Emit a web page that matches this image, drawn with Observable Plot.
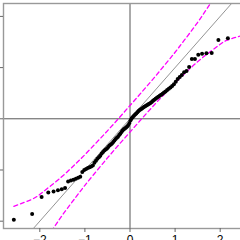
<!DOCTYPE html>
<html>
<head>
<meta charset="utf-8">
<script src="https://cdn.jsdelivr.net/npm/d3@7"></script>
<script src="https://cdn.jsdelivr.net/npm/@observablehq/plot@0.6"></script>
<style>
  html, body { margin: 0; padding: 0; background: white; }
  #chart { width: 240px; height: 240px; overflow: hidden; }
</style>
</head>
<body>
<div id="chart"></div>
<script>
// Theoretical normal quantiles (x) for 100 points
const theoQ = [
  -2.576, -2.170, -1.960, -1.812, -1.695, -1.598, -1.514, -1.440, -1.372, -1.311,
  -1.254, -1.200, -1.150, -1.103, -1.058, -1.015, -0.974, -0.935, -0.897, -0.860,
  -0.824, -0.789, -0.755, -0.723, -0.690, -0.659, -0.628, -0.598, -0.568, -0.539,
  -0.510, -0.482, -0.454, -0.426, -0.399, -0.372, -0.345, -0.319, -0.292, -0.266,
  -0.240, -0.215, -0.189, -0.164, -0.138, -0.113, -0.088, -0.063, -0.038, -0.013,
   0.013,  0.038,  0.063,  0.088,  0.113,  0.138,  0.164,  0.189,  0.215,  0.240,
   0.266,  0.292,  0.319,  0.345,  0.372,  0.399,  0.426,  0.454,  0.482,  0.510,
   0.539,  0.568,  0.598,  0.628,  0.659,  0.690,  0.723,  0.755,  0.789,  0.824,
   0.860,  0.897,  0.935,  0.974,  1.015,  1.058,  1.103,  1.150,  1.200,  1.254,
   1.311,  1.372,  1.440,  1.514,  1.598,  1.695,  1.812,  1.960,  2.170,  2.576
];
// Sorted sample values (y)
const sampleQ = [
  -1.97, -1.86, -1.53, -1.44, -1.42, -1.395, -1.375, -1.35, -1.225, -1.205,
  -1.19, -1.17, -1.15, -1.13, -1.04, -1.00, -0.98, -0.96, -0.945, -0.93,
  -0.91, -0.86, -0.82, -0.78, -0.75, -0.72, -0.68, -0.65, -0.62, -0.60,
  -0.58, -0.55, -0.52, -0.50, -0.485, -0.455, -0.425, -0.395, -0.37, -0.35,
  -0.315, -0.29, -0.26, -0.23, -0.205, -0.19, -0.17, -0.15, -0.12, -0.08,
  -0.03, 0.01, 0.035, 0.06, 0.085, 0.105, 0.13, 0.15, 0.17, 0.185,
  0.20, 0.22, 0.235, 0.25, 0.265, 0.28, 0.295, 0.31, 0.33, 0.35,
  0.37, 0.39, 0.41, 0.43, 0.45, 0.47, 0.49, 0.515, 0.535, 0.56,
  0.585, 0.61, 0.64, 0.675, 0.725, 0.775, 0.815, 0.855, 0.91, 0.935,
  1.01, 1.17, 1.17, 1.25, 1.27, 1.28, 1.285, 1.54, 1.575, 2.10
];
// Confidence envelope (magenta dashed)
const bandX     = [-2.576, -2.170, -1.960, -1.695, -1.440, -1.200, -1.000, -0.750, -0.500, -0.250, 0.000, 0.250, 0.500, 0.750, 1.000, 1.200, 1.440, 1.695, 1.960, 2.170, 2.576];
const bandUpper = [-1.71, -1.57, -1.45, -1.265, -1.075, -0.875, -0.70, -0.47, -0.235, 0.01, 0.26, 0.51, 0.765, 1.03, 1.30, 1.53, 1.81, 2.135, 2.49, 2.80, 3.51];
const bandLower = [-3.51, -2.80, -2.49, -2.135, -1.81, -1.53, -1.30, -1.03, -0.765, -0.51, -0.26, -0.01, 0.235, 0.47, 0.70, 0.87, 1.07, 1.255, 1.43, 1.54, 1.65];
// Reference line y = a + b x
const refIntercept = 0;
const refSlope = 1;
const refXs = [-3, 3];
const xTicks = [-2, -1, 0, 1, 2];
const yTicks = [-2, -1, 0, 1, 2];

const points = theoQ.map((x, i) => ({x, y: sampleQ[i]}));
const band = bandX.map((x, i) => ({x, upper: bandUpper[i], lower: bandLower[i]}));
const refLine = refXs.map(x => ({x, y: refIntercept + refSlope * x}));

const chart = Plot.plot({
  width: 240,
  height: 240,
  marginLeft: 3,
  marginTop: 3,
  marginBottom: 12,
  marginRight: -16,
  x: {domain: [-2.805, 2.805], label: null},
  y: {domain: [-2.143, 2.252], label: null},
  style: {fontFamily: "'Liberation Sans', Arial, sans-serif", fontSize: "12px", background: "white", color: "black"},
  marks: [
    Plot.ruleX([0], {stroke: "#444", strokeWidth: 0.9}),
    Plot.ruleY([0], {stroke: "#444", strokeWidth: 0.9}),
    Plot.line(refLine, {x: "x", y: "y", stroke: "#777", strokeWidth: 0.8, clip: true}),
    Plot.line(band, {x: "x", y: "upper", stroke: "#ff00ff", strokeWidth: 1.3, strokeDasharray: "4,3", curve: "natural", clip: true}),
    Plot.line(band, {x: "x", y: "lower", stroke: "#ff00ff", strokeWidth: 1.3, strokeDasharray: "4,3", curve: "natural", clip: true}),
    Plot.dot(points, {x: "x", y: "y", r: 2, fill: "black", stroke: "none"}),
    Plot.frame({stroke: "#999", strokeWidth: 1.4}),
    Plot.axisX(xTicks, {label: null, tickSize: 4, tickPadding: 3, fontSize: 12, stroke: "#666"}),
    Plot.axisY(yTicks, {label: null, tickSize: 4, stroke: "#666", tickFormat: () => ""})
  ]
});
document.getElementById("chart").appendChild(chart);
</script>
</body>
</html>
